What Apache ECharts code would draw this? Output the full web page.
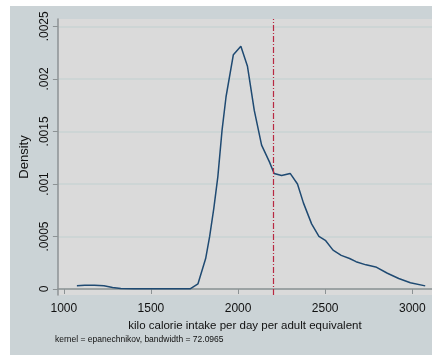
<!DOCTYPE html>
<html style="height: 100%">
<head>
<meta charset="utf-8">
<script src="https://cdn.jsdelivr.net/npm/echarts@6/dist/echarts.min.js"></script>
</head>
<body style="height: 100%; margin: 0; background: #ffffff">
<div id="container" style="position: absolute; left: 10px; top: 6px; width: 422px; height: 349px"></div>
<script type="text/javascript">
// kernel density estimate
var calories = [1075, 1120, 1176, 1230, 1280, 1327, 1400, 1500, 1600, 1727,
    1770, 1814, 1837, 1861, 1884, 1908, 1931, 1973, 2016, 2054,
    2093, 2135, 2180, 2207, 2250, 2299, 2341, 2375, 2422, 2464,
    2503, 2545, 2592, 2640, 2677, 2734, 2790, 2857, 2922, 2989, 3074];
var density = [0.00003, 0.000035, 0.000035, 0.00003, 0.000015, 0.000005, 0.000003, 0.000003, 0.000003, 0.000003,
    0.00005, 0.00029, 0.0005, 0.00077, 0.00107, 0.00151, 0.00183, 0.00223, 0.00231, 0.00212,
    0.0017, 0.00137, 0.00121, 0.0011, 0.00108, 0.0011, 0.001, 0.00082, 0.00062, 0.0005,
    0.00046, 0.00037, 0.00032, 0.00029, 0.00026, 0.00023, 0.00021, 0.00015, 0.0001, 0.00006, 0.00003];
var refLine = 2200;

var xTicks = [1000, 1500, 2000, 2500, 3000];
var yTicks = [0, 0.0005, 0.001, 0.0015, 0.002, 0.0025];
var yTickLabels = ['0', '.0005', '.001', '.0015', '.002', '.0025'];

var points = [];
for (var i = 0; i < calories.length; i++) {
    points.push([calories[i], density[i]]);
}

var myChart = echarts.init(document.getElementById('container'));
var axisGray = '#8c9294';
var font = 'Liberation Sans, Arial, sans-serif';
var option = {
    animation: false,
    backgroundColor: '#cbd3d6',
    textStyle: { fontFamily: font },
    grid: {
        left: 43, top: 13, right: 0, bottom: 60,
        show: true, backgroundColor: '#dadada', borderWidth: 0
    },
    xAxis: {
        type: 'value',
        min: 966, max: 3113,
        name: 'kilo calorie intake per day per adult equivalent',
        nameLocation: 'middle',
        nameGap: 20,
        nameTextStyle: { fontSize: 11.5, color: '#111' },
        axisLine: { show: true, lineStyle: { color: axisGray, width: 1.5 } },
        axisTick: { show: true, length: 5, customValues: xTicks, lineStyle: { color: axisGray } },
        axisLabel: {
            customValues: xTicks, fontSize: 12, color: '#111', margin: 8,
            formatter: function (v) { return String(v); }
        },
        splitLine: { show: false }
    },
    yAxis: {
        type: 'value',
        min: -0.000057, max: 0.00257,
        name: 'Density',
        nameLocation: 'middle',
        nameGap: 20,
        nameTextStyle: { fontSize: 13, color: '#111' },
        axisLine: { show: true, lineStyle: { color: axisGray, width: 1.5 } },
        axisTick: { show: true, length: 5, customValues: yTicks, lineStyle: { color: axisGray } },
        axisLabel: {
            customValues: yTicks, rotate: 90, fontSize: 12, color: '#111', margin: 7,
            formatter: function (v) {
                var k = yTicks.indexOf(v);
                return k >= 0 ? yTickLabels[k] : '';
            }
        },
        splitLine: { show: true, lineStyle: { color: '#c9d3d3', width: 1.5 } }
    },
    graphic: [{
        type: 'text',
        left: 45, top: 329,
        style: {
            text: 'kernel = epanechnikov, bandwidth = 72.0965',
            fontSize: 8.5, fill: '#111', fontFamily: font
        }
    }],
    series: [{
        type: 'line',
        data: points,
        showSymbol: false,
        itemStyle: { color: '#1f4a72' },
        lineStyle: { color: '#1f4a72', width: 1.5 },
        markLine: {
            silent: true,
            symbol: 'none',
            label: { show: false },
            itemStyle: { color: '#b82842' },
            lineStyle: { color: '#b82842', width: 1.2, type: [6, 2, 1, 2], opacity: 1 },
            emphasis: { disabled: true },
            data: [{ xAxis: refLine }]
        }
    }]
};
myChart.setOption(option);
</script>
</body>
</html>
